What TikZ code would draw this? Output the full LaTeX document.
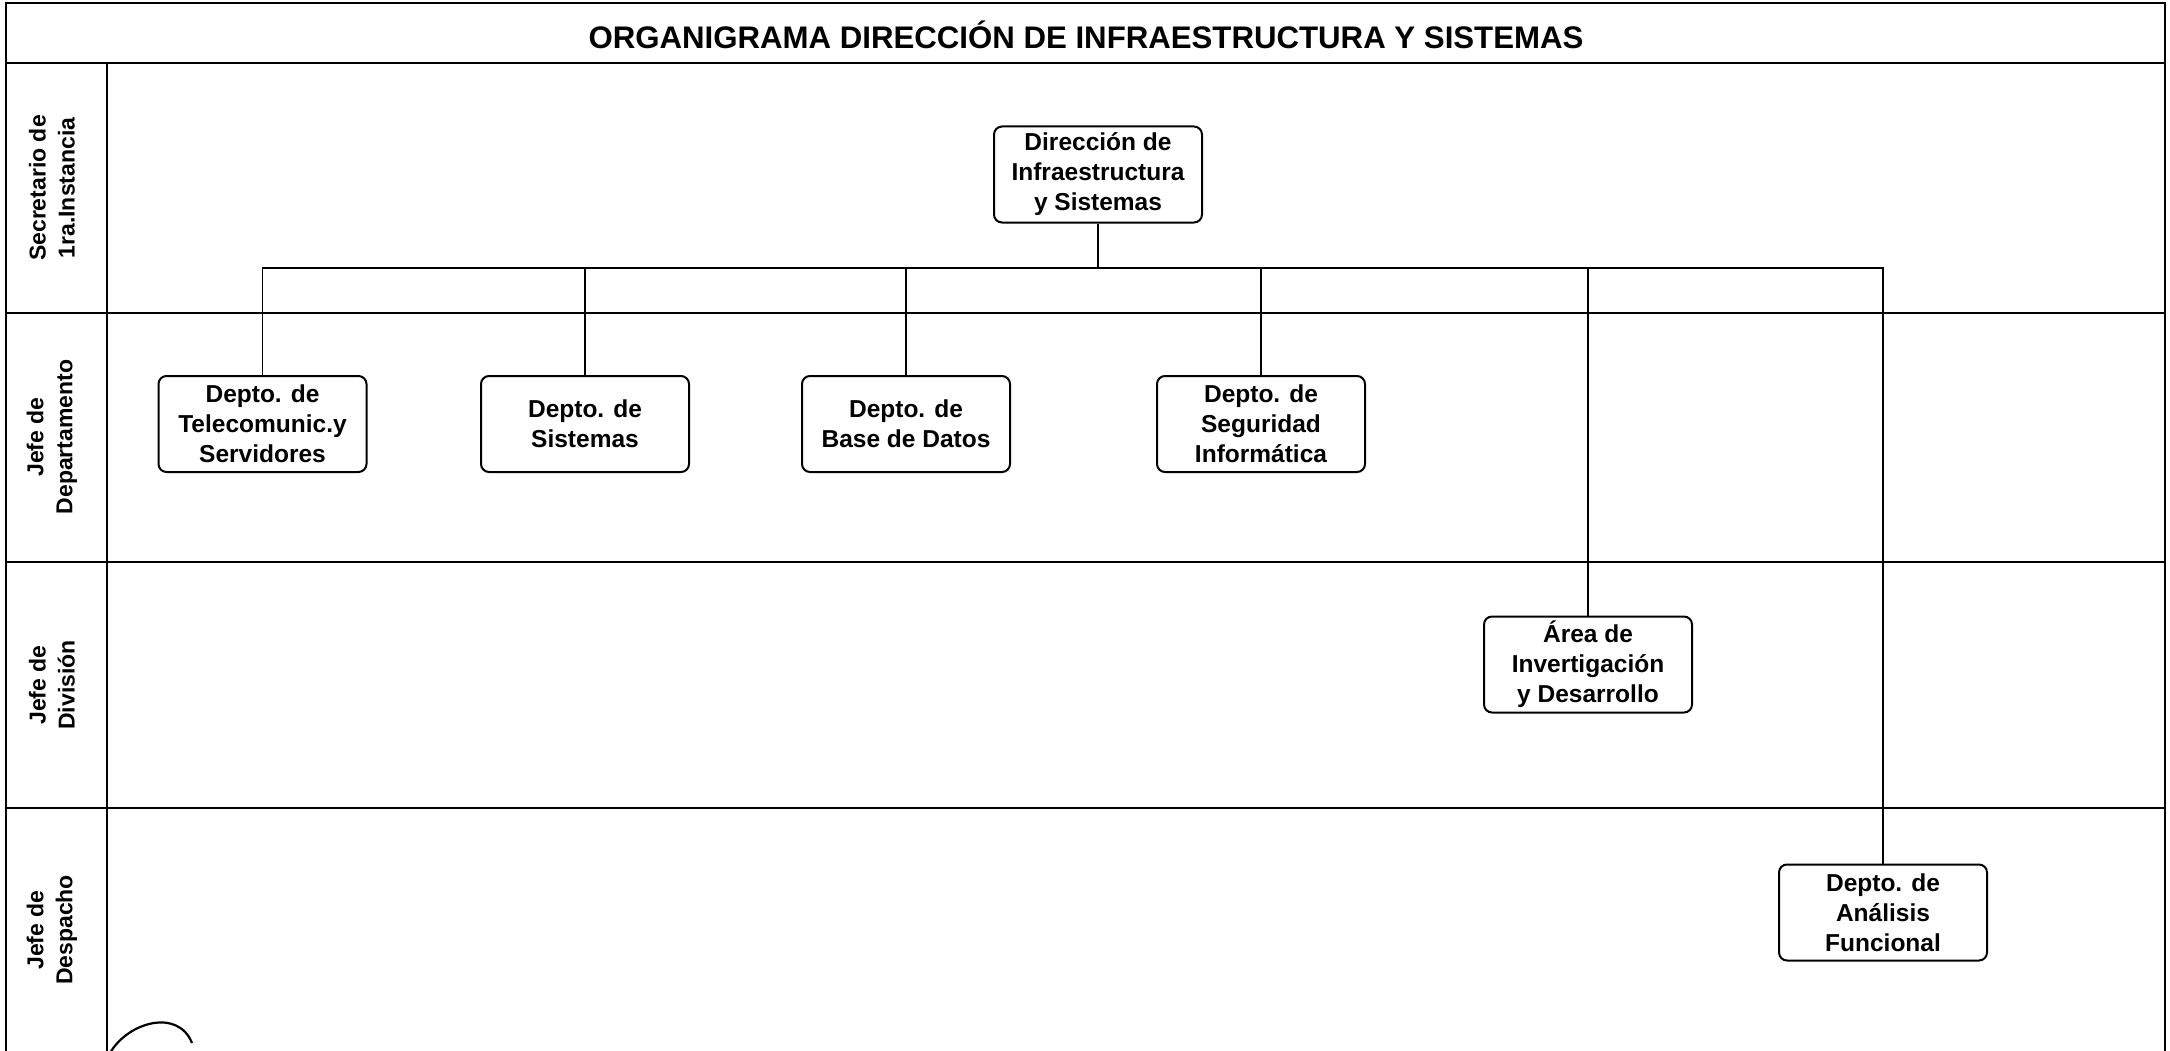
\documentclass[tikz,border=0pt]{standalone}
\usepackage{fontspec}
\setmainfont{Liberation Sans}
\begin{document}
\begin{tikzpicture}[x=1pt,y=-1pt,
  frame/.style={line width=2.4pt},
  thin/.style={line width=1.5pt},
  unit/.style={draw,line width=2pt,rounded corners=8pt,minimum width=208pt,minimum height=96pt,
    align=center,inner sep=2pt,font=\fontsize{24.5}{30}\selectfont\bfseries},
  lane/.style={rotate=90,align=center,font=\fontsize{23}{29}\selectfont\bfseries},
  link/.style={line width=1.5pt}]
\useasboundingbox (0,0) rectangle (2170,1051);
% frame
\draw[frame] (6,1053) -- (6,3) -- (2165,3) -- (2165,1053);
\draw[frame] (6,63) -- (2165,63);
\draw[frame] (6,313) -- (2165,313);
\draw[frame] (6,562) -- (2165,562);
\draw[frame] (6,808) -- (2165,808);
\draw[thin] (107,63) -- (107,1053);
% title
\node[font=\fontsize{31.2}{36}\selectfont\bfseries] (title) at (1086,35) {ORGANIGRAMA DIRECCIÓN DE INFRAESTRUCTURA Y SISTEMAS};
% lane labels
\node[lane] (l1) at (52,188) {Secretario de\\1ra.Instancia};
\node[lane] (l2) at (52,437) {Jefe de\\Departamento};
\node[lane] (l3) at (52,685) {Jefe de\\División};
\node[lane] (l4) at (52,930) {Jefe de\\Despacho};
% units
\node[unit] (dir) at (1098,174.5) {Dirección de\\Infraestructura\\y Sistemas};
\node[unit] (tel) at (262.5,424) {Depto. de\\Telecomunic.y\\Servidores};
\node[unit] (sis) at (585,424) {Depto. de\\Sistemas};
\node[unit] (bd)  at (906,424) {Depto. de\\Base de Datos};
\node[unit] (seg) at (1261,424) {Depto. de\\Seguridad\\Informática};
\node[unit] (inv) at (1588,664.5) {Área de\\Invertigación\\y Desarrollo};
\node[unit] (ana) at (1883,912.5) {Depto. de\\Análisis\\Funcional};
% connectors
\coordinate (bus) at (1098,268);
\draw[link] (dir.south) -- (bus);
\draw[link] (tel.north) |- (bus);
\draw[link] (ana.north) |- (bus);
\draw[link] (sis.north) -- (sis.north |- bus);
\draw[link] (bd.north) -- (bd.north |- bus);
\draw[link] (seg.north) -- (seg.north |- bus);
\draw[link] (inv.north) -- (inv.north |- bus);
% signature stroke
\draw[line width=2.2pt] (110,1053) .. controls (128,1022) and (178,1008) .. (192,1043);
\end{tikzpicture}
\end{document}
